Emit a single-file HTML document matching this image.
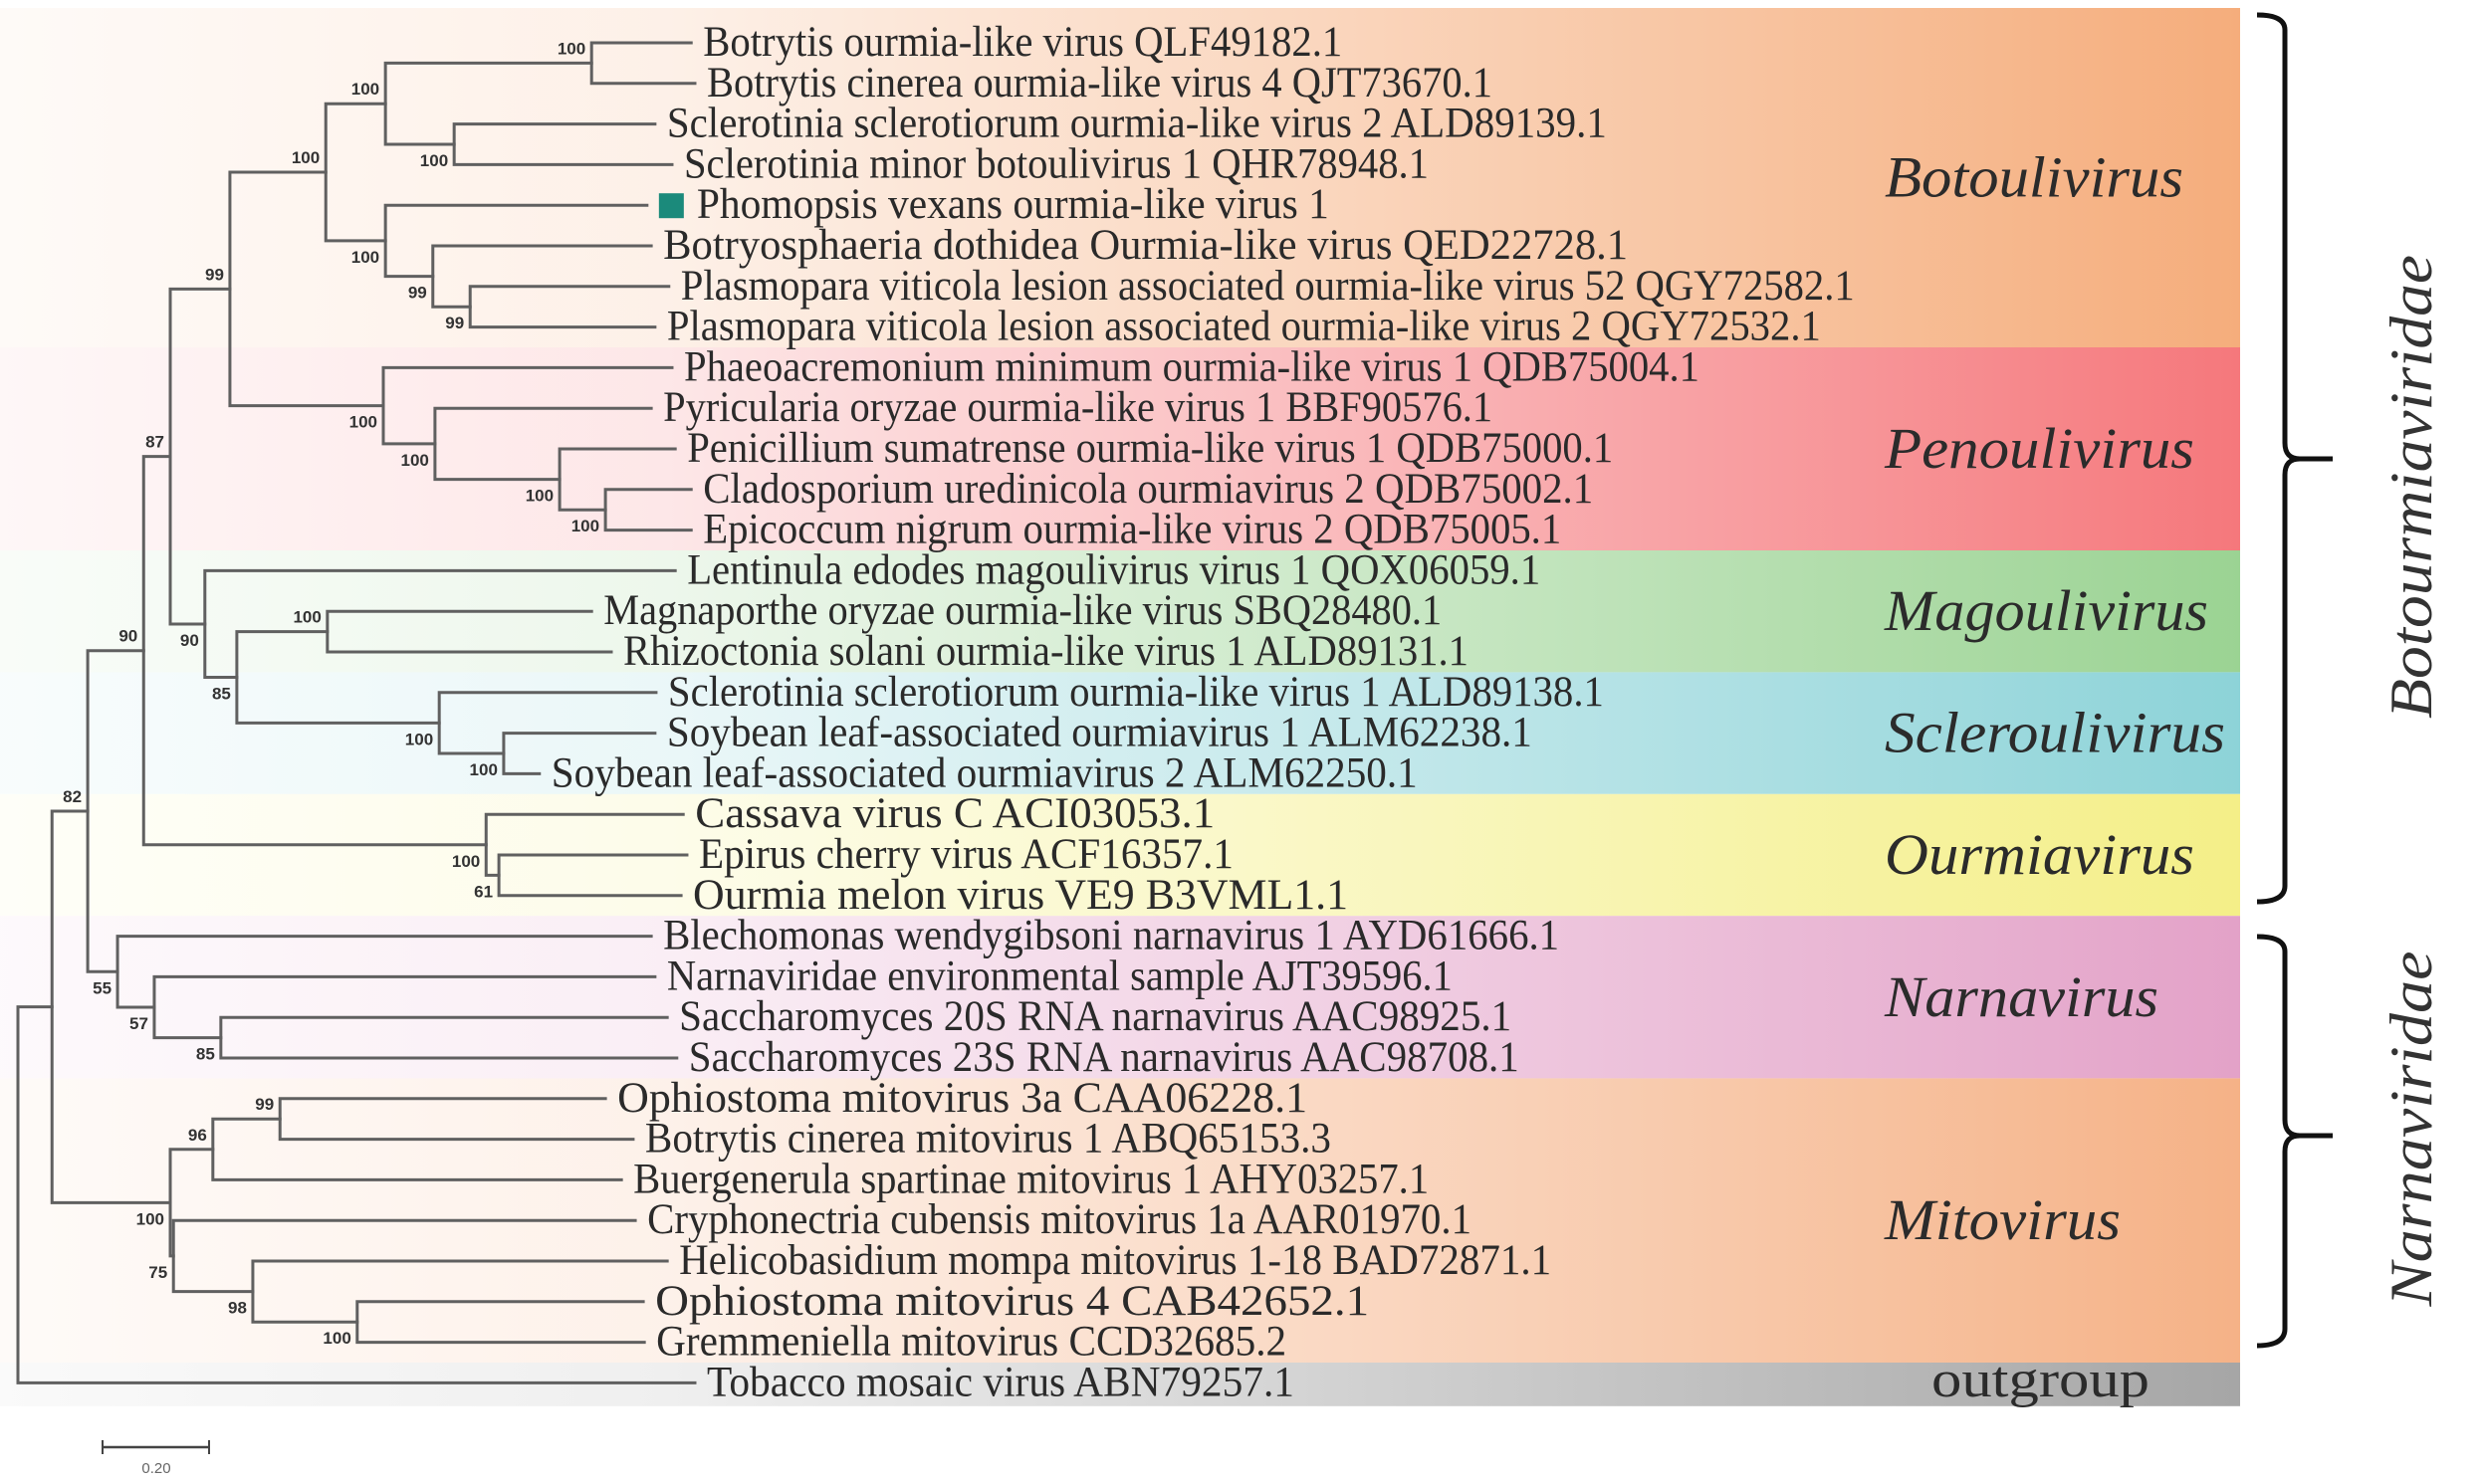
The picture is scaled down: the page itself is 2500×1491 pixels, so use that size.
<!DOCTYPE html>
<html><head><meta charset="utf-8">
<style>
html,body{margin:0;padding:0;background:#fff;}
svg{display:block;}
.leaf{font-family:"Liberation Serif",serif;font-size:43px;fill:#2a2a2a;}
.boot{font-family:"Liberation Sans",sans-serif;font-weight:bold;font-size:17px;fill:#333;}
.genus{font-family:"Liberation Serif",serif;font-style:italic;font-size:58px;fill:#2b2b2b;}
.fam{font-family:"Liberation Serif",serif;font-style:italic;font-size:60px;fill:#333;}
</style></head>
<body>
<svg id="chart" width="2500" height="1491" viewBox="0 0 2500 1491" xmlns="http://www.w3.org/2000/svg">
<defs id="defs"></defs>
<g id="bands"></g>
<g id="tree"></g>
<g id="labels"></g>
<g id="boots"></g>
<g id="genera"></g>
<g fill="none" stroke="#111" stroke-width="5">
  <path d="M2267,15 Q2295,15 2295,30 L2295,445 Q2295,461 2310,461 L2343,461 M2310,461 Q2295,461 2295,477 L2295,890 Q2295,906 2267,906"/>
  <path d="M2267,941 Q2295,941 2295,956 L2295,1125 Q2295,1141 2310,1141 L2343,1141 M2310,1141 Q2295,1141 2295,1157 L2295,1335 Q2295,1352 2267,1352"/>
</g>
<text class="fam" transform="translate(2442,489) rotate(-90)" text-anchor="middle" textLength="466" lengthAdjust="spacingAndGlyphs">Botourmiaviridae</text>
<text class="fam" transform="translate(2442,1134) rotate(-90)" text-anchor="middle" textLength="357" lengthAdjust="spacingAndGlyphs">Narnaviridae</text>
<g>
  <line x1="103" y1="1454" x2="210" y2="1454" stroke="#444" stroke-width="2.5"/>
  <line x1="103" y1="1447" x2="103" y2="1461" stroke="#444" stroke-width="2"/>
  <line x1="210" y1="1447" x2="210" y2="1461" stroke="#444" stroke-width="2"/>
  <text x="157" y="1480" text-anchor="middle" font-family="Liberation Sans, sans-serif" font-size="15" fill="#666">0.20</text>
</g>
</svg>
<script>
// ---- data ----
const leafNames = [
"Botrytis ourmia-like virus QLF49182.1",
"Botrytis cinerea ourmia-like virus 4 QJT73670.1",
"Sclerotinia sclerotiorum ourmia-like virus 2 ALD89139.1",
"Sclerotinia minor botoulivirus 1 QHR78948.1",
"Phomopsis vexans ourmia-like virus 1",
"Botryosphaeria dothidea Ourmia-like virus QED22728.1",
"Plasmopara viticola lesion associated ourmia-like virus 52 QGY72582.1",
"Plasmopara viticola lesion associated ourmia-like virus 2 QGY72532.1",
"Phaeoacremonium minimum ourmia-like virus 1 QDB75004.1",
"Pyricularia oryzae ourmia-like virus 1 BBF90576.1",
"Penicillium sumatrense ourmia-like virus 1 QDB75000.1",
"Cladosporium uredinicola ourmiavirus 2 QDB75002.1",
"Epicoccum nigrum ourmia-like virus 2 QDB75005.1",
"Lentinula edodes magoulivirus virus 1 QOX06059.1",
"Magnaporthe oryzae ourmia-like virus SBQ28480.1",
"Rhizoctonia solani ourmia-like virus 1 ALD89131.1",
"Sclerotinia sclerotiorum ourmia-like virus 1 ALD89138.1",
"Soybean leaf-associated ourmiavirus 1 ALM62238.1",
"Soybean leaf-associated ourmiavirus 2 ALM62250.1",
"Cassava virus C ACI03053.1",
"Epirus cherry virus ACF16357.1",
"Ourmia melon virus VE9 B3VML1.1",
"Blechomonas wendygibsoni narnavirus 1 AYD61666.1",
"Narnaviridae environmental sample AJT39596.1",
"Saccharomyces 20S RNA narnavirus AAC98925.1",
"Saccharomyces 23S RNA narnavirus AAC98708.1",
"Ophiostoma mitovirus 3a CAA06228.1",
"Botrytis cinerea mitovirus 1 ABQ65153.3",
"Buergenerula spartinae mitovirus 1 AHY03257.1",
"Cryphonectria cubensis mitovirus 1a AAR01970.1",
"Helicobasidium mompa mitovirus 1-18 BAD72871.1",
"Ophiostoma mitovirus 4 CAB42652.1",
"Gremmeniella mitovirus CCD32685.2",
"Tobacco mosaic virus ABN79257.1"];
const leafDist = [1.264,1.271,1.196,1.228,1.181,1.189,1.222,1.196,1.228,1.189,1.234,1.264,1.264,1.234,1.077,1.114,1.198,1.196,0.979,1.249,1.256,1.245,1.189,1.196,1.219,1.237,1.103,1.155,1.133,1.159,1.219,1.174,1.176,1.271];
const labelWidths = [642,789,944,748,635,969,1179,1159,1020,833,930,894,862,857,842,849,940,869,870,522,537,658,900,789,836,834,693,689,799,828,876,717,633,590];
const highlightLeaf = 4;
const nodeIds   = ["A","C","B","F","E","D","G","K","J","I","H","M","N","P","O","Q","R","S","T","U","V","W","X","Y","Z","AA","AB","AC","AD","AE","AF","AG","ROOT"];
const nodeKids  = [["L0","L1"],["L2","L3"],["A","C"],["L6","L7"],["L5","F"],["L4","E"],["B","D"],["L11","L12"],["L10","K"],["L9","J"],["L8","I"],["G","H"],["L14","L15"],["L17","L18"],["L16","P"],["N","O"],["L13","Q"],["M","R"],["L20","L21"],["L19","T"],["S","U"],["L24","L25"],["L23","W"],["L22","X"],["V","Y"],["L26","L27"],["AA","L28"],["L31","L32"],["L30","AC"],["L29","AD"],["AB","AE"],["Z","AF"],["AG","L33"]];
const nodeDist  = [1.077,0.819,0.690,0.849,0.779,0.690,0.578,1.103,1.017,0.783,0.686,0.398,0.581,0.912,0.791,0.411,0.351,0.286,0.903,0.879,0.236,0.381,0.256,0.187,0.131,0.492,0.366,0.637,0.441,0.292,0.286,0.064,0];
const nodeBoot  = ["100","100","100","99","99","100","100","100","100","100","100","99","100","100","100","85","90","87","61","100","90","85","57","55","82","99","96","100","98","75","100","",""];
const nodeSide  = ["a","b","a","b","b","b","a","b","b","b","b","a","a","b","b","b","b","a","b","b","a","b","b","b","a","a","a","b","b","b","b","a","a"];
const bandNames = ["Botoulivirus","Penoulivirus","Magoulivirus","Scleroulivirus","Ourmiavirus","Narnavirus","Mitovirus","outgroup"];
const bandFirst = [0,8,13,16,19,22,26,33];
const bandLast  = [7,12,15,18,21,25,32,33];
const bandColors = ["#f5ad7c","#f5787c","#9bd393","#8dd3d8","#f4ef88","#e3a2c8","#f5b287","#a6a6a6"];
const bandLabelWidths = [300,311,325,342,311,275,237,219];

// ---- scales ----
const X0 = 18, PX_PER_UNIT = 535, Y0 = 43, ROW = 40.8;
const xs = d => X0 + d * PX_PER_UNIT;
const ys = i => Y0 + i * ROW;
const NS = "http://www.w3.org/2000/svg";
function mk(tag, attrs, parent){ const e=document.createElementNS(NS,tag); for(const k in attrs) e.setAttribute(k,attrs[k]); parent.appendChild(e); return e; }

const defs=document.getElementById('defs'), gB=document.getElementById('bands'), gG=document.getElementById('genera');
bandNames.forEach((nm,i)=>{
  const gid='grad'+i;
  const lg=mk('linearGradient',{id:gid,x1:'0',x2:'1',y1:'0',y2:'0'},defs);
  [[0,0.06],[0.3,0.18],[0.55,0.45],[0.8,0.75],[1,1]].forEach(s=>mk('stop',{offset:s[0],'stop-color':bandColors[i],'stop-opacity':s[1]},lg));
  const top = i===0 ? 8 : ys(bandFirst[i]) - ROW/2;
  const bot = ys(bandLast[i]) + ROW/2 + (i===bandNames.length-1 ? 3 : 0);
  const r=mk('rect',{x:0,y:top,width:2250,height:bot-top,fill:'url(#'+gid+')'},gB);
  
  
  const cy=(top+bot)/2;
  const t=mk('text',{x:1893,y:cy+19,class:'genus',textLength:bandLabelWidths[i],lengthAdjust:'spacingAndGlyphs'},gG);
  if(nm==='outgroup'){ t.setAttribute('style','font-style:normal;font-size:52px'); t.setAttribute('x',1940); t.setAttribute('y',cy+12); }
  t.textContent=nm;
  
  
});

const pos={};
leafNames.forEach((n,i)=>{ pos['L'+i]={x:xs(leafDist[i]),y:ys(i)}; });
const gT=document.getElementById('tree'), gL=document.getElementById('labels'), gBo=document.getElementById('boots');
const st={stroke:'#606060','stroke-width':3,'stroke-linecap':'square',fill:'none'};
nodeIds.forEach((id,k)=>{
  const a=pos[nodeKids[k][0]], b=pos[nodeKids[k][1]];
  const x=xs(nodeDist[k]), y=(a.y+b.y)/2;
  pos[id]={x:x,y:y};
  const p=mk('path',Object.assign({d:`M${a.x},${a.y} H${x} V${b.y} H${b.x}`},st),gT);
  
  
  if(nodeBoot[k]){
    const t=mk('text',{x:x-6,y:nodeSide[k]==='a'? y-9 : y+22,'text-anchor':'end',class:'boot'},gBo);
    t.textContent=nodeBoot[k];
    
    
  }
});

leafNames.forEach((n,i)=>{
  const p=pos['L'+i];
  let tx=p.x+12;
  if(i===highlightLeaf){
    const sq=mk('rect',{x:p.x+12,y:p.y-12,width:25,height:25,fill:'#1b8a7b'},gL);
    
    
    tx=p.x+50;
  }
  const t=mk('text',{x:tx,y:p.y+13,class:'leaf',textLength:labelWidths[i],lengthAdjust:'spacingAndGlyphs'},gL);
  t.textContent=n;
  
  
});
</script>
</body></html>
